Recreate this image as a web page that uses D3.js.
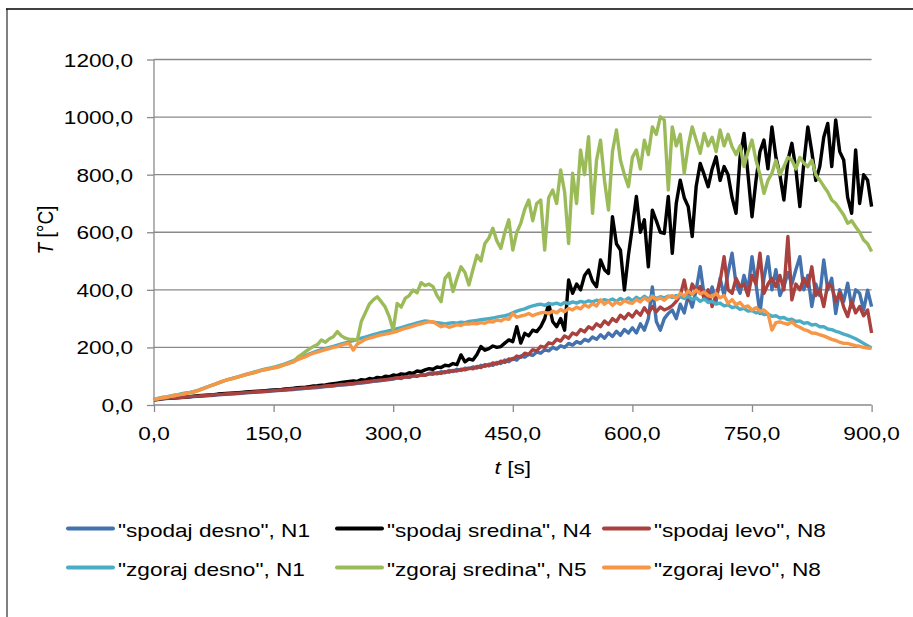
<!DOCTYPE html>
<html><head><meta charset="utf-8">
<script src="https://cdn.jsdelivr.net/npm/d3@7/dist/d3.min.js"></script>
<style>
html,body{margin:0;padding:0;background:#fff;}
text{font-family:"Liberation Sans",Arial,sans-serif;font-size:19px;fill:#000;}
</style></head>
<body><svg id="chart" width="913" height="617"></svg>
<script>
// time step of the readings (s): 0,5,...,900
const times = d3.range(0, 905, 5);
const xTicks = [0, 150, 300, 450, 600, 750, 900];
const yTicks = [0, 200, 400, 600, 800, 1000, 1200];
const seriesNames = ['"spodaj desno", N1', '"spodaj sredina", N4', '"spodaj levo", N8',
                     '"zgoraj desno", N1', '"zgoraj sredina", N5', '"zgoraj levo", N8'];
const seriesColors = ['#4372AE', '#000000', '#A9413E', '#4BACC6', '#9BBB59', '#F79646'];

const spodajDesno = [
 18,19,21,22,23,24,25,26,27,28, 29,30,31,32,33,34,35,36,37,38,
 39,40,41,42,43,44,45,46,47,48, 49,50,51,52,53,54,55,56,58,59,
 60,61,62,64,65,66,68,69,70,72, 73,75,76,78,80,82,83,85,87,88,
 90,94,92,98,96,102,100,106,104,110, 112,108,116,112,120,116,124,120,128,126,
 132,128,138,134,142,138,148,144,156,150, 162,156,170,166,176,172,184,180,192,188,
 200,194,206,200,214,208,220,214,228,222, 236,228,244,232,250,238,256,242,262,250,
 268,250,282,260,300,410,290,260,300,318, 330,300,350,320,380,340,400,480,380,365,
 410,360,440,380,460,527,420,388,450,400, 515,420,318,440,515,400,470,380,411,460,
 420,470,515,400,450,342,420,380,504,400, 440,318,400,360,423,340,400,388,330,399,
 342];
const spodajSredina = [
 18,20,22,23,24,25,26,27,28,29, 31,32,33,34,35,36,38,39,40,41,
 42,43,44,45,46,47,48,49,50,51, 52,53,54,56,57,58,60,61,62,64,
 66,67,69,70,72,74,76,78,80,82, 84,82,88,86,92,90,96,94,100,98,
 104,102,108,106,112,110,118,116,122,126, 124,132,130,138,136,144,140,174,150,160,
 156,175,203,190,196,205,200,203,215,226, 220,272,215,249,240,260,255,272,300,353,
 290,272,300,260,434,388,420,400,450,469, 430,411,504,470,457,654,560,538,399,520,
 619,724,600,643,480,677,640,600,596,724, 527,700,781,720,689,585,760,839,800,758,
 820,862,780,828,800,720,666,860,943,800, 654,780,880,920,820,966,860,800,712,850,
 909,820,689,840,966,880,780,828,930,978, 828,990,880,851,720,666,886,700,800,781,
 689];
const spodajLevo = [
 18,20,22,23,24,25,26,27,28,29, 30,31,32,33,34,35,36,37,38,39,
 40,41,42,43,44,45,46,47,48,49, 50,51,52,53,55,56,57,58,59,60,
 62,63,64,66,67,68,70,71,72,74, 75,77,78,80,82,84,85,87,88,90,
 92,95,94,98,97,101,100,104,103,108, 107,112,110,116,114,120,118,124,122,128,
 126,134,130,140,136,146,142,152,148,160, 158,170,166,180,176,192,188,204,200,216,
 212,228,222,240,232,250,244,262,254,272, 264,282,272,292,280,300,290,312,300,318,
 306,326,312,338,318,342,324,340,330,336, 345,360,380,434,365,420,395,411,370,400,
 342,380,430,515,400,388,440,411,420,380, 450,420,527,388,420,440,411,450,400,585,
 365,420,400,440,411,480,380,400,342,420, 411,360,390,340,307,360,320,342,310,330,
 250];
const zgorajDesno = [
 20,23,26,28,31,34,36,39,42,44, 47,51,56,61,66,71,76,81,86,90,
 94,98,102,106,110,114,118,122,125,128, 131,135,139,144,149,154,160,166,172,178,
 183,188,192,196,200,204,208,212,216,220, 224,228,232,236,240,244,248,252,255,258,
 261,265,269,273,277,281,285,289,292,290, 288,286,284,282,284,286,284,288,286,290,
 292,294,296,298,300,302,305,308,310,314, 320,326,330,334,340,344,348,350,346,352,
 350,354,348,356,352,358,354,360,356,362, 358,364,360,366,362,368,360,370,362,372,
 362,374,366,378,368,380,370,376,372,378, 374,380,376,370,378,366,372,360,368,356,
 360,350,354,344,348,338,342,332,336,326, 328,320,322,314,316,308,310,302,304,296,
 298,290,292,284,286,278,280,272,272,264, 262,256,252,246,242,236,230,222,214,206,
 198];
const zgorajSredina = [
 20,22,25,27,30,32,35,37,40,42, 45,50,55,60,66,71,76,81,86,90,
 93,97,101,105,108,112,116,120,123,126, 130,133,137,141,145,150,165,175,185,195,
 203,210,226,218,230,237,255,240,232,228, 228,225,290,320,350,365,376,359,340,307,
 260,353,340,370,380,399,390,425,415,420, 411,380,359,440,457,394,440,480,460,417,
 470,520,500,561,580,614,570,544,600,643, 538,600,631,680,712,640,700,712,538,720,
 747,700,816,740,561,805,700,886,800,932, 666,850,920,780,677,880,955,850,800,758,
 860,886,820,920,870,966,940,1001,990,747, 966,900,940,805,900,966,920,874,943,900,
 930,880,955,900,940,897,870,900,828,880, 920,850,800,735,780,805,850,800,828,860,
 851,820,860,840,828,850,800,781,760,740, 712,700,680,660,631,640,619,600,573,560,
 533];
const zgorajLevo = [
 20,22,25,27,30,32,35,37,40,43, 46,50,55,60,66,71,76,81,86,90,
 93,97,101,105,110,112,116,120,123,126, 128,131,136,141,146,150,157,163,168,175,
 180,184,188,192,196,200,203,208,212,214, 191,212,220,228,232,236,240,244,246,249,
 252,256,262,266,270,274,278,282,286,289, 289,280,272,276,270,274,279,276,282,281,
 284,282,286,284,290,288,295,292,300,298, 318,305,309,312,318,310,316,320,322,318,
 326,320,332,324,336,330,340,334,348,340, 352,344,365,350,360,346,358,350,362,356,
 353,366,358,372,362,376,366,372,364,376, 380,370,388,378,396,384,399,386,392,380,
 376,388,372,380,353,366,348,356,340,344, 330,338,326,330,318,260,286,289,284,280,
 289,276,270,262,258,250,249,244,240,234, 228,224,218,214,214,210,206,204,200,198,
 197];

const seriesValues = [spodajDesno, spodajSredina, spodajLevo, zgorajDesno, zgorajSredina, zgorajLevo];

const svg = d3.select('#chart');
const SX = 1.19; // horizontal stretch of the text in the picture
svg.append('rect').attr('width', 913).attr('height', 617).attr('fill', '#fff');
// frame
svg.append('line').attr('x1', 7).attr('x2', 7).attr('y1', 9).attr('y2', 617).attr('stroke', '#808080').attr('stroke-width', 2);
svg.append('line').attr('x1', 6).attr('x2', 913).attr('y1', 9).attr('y2', 9).attr('stroke', '#000').attr('stroke-width', 1.5);

const x = d3.scaleLinear().domain([0, 900]).range([154, 871.6]);
const y = d3.scaleLinear().domain([0, 1200]).range([405, 59.5]);
const fmt = v => v.toFixed(1).replace('.', ',');

function txt(px, py, s, anchor) {
  return svg.append('text').attr('transform', `translate(${px},${py}) scale(${SX},1)`)
    .attr('text-anchor', anchor).text(s);
}

// gridlines
svg.append('g').selectAll('line').data(yTicks.filter(v => v > 0)).join('line')
  .attr('x1', x(0)).attr('x2', x(900)).attr('y1', d => y(d)).attr('y2', d => y(d))
  .attr('stroke', '#8a8a8a').attr('stroke-width', 1.3);

// axes
const yAxis = svg.append('g').attr('transform', `translate(${x(0)},0)`)
  .call(d3.axisLeft(y).tickValues(yTicks).tickSize(7).tickFormat(''));
const xAxis = svg.append('g').attr('transform', `translate(0,${y(0)})`)
  .call(d3.axisBottom(x).tickValues(xTicks).tickSize(7).tickFormat(''));
[yAxis, xAxis].forEach(a => {
  a.selectAll('path,line').attr('stroke', '#8a8a8a').attr('stroke-width', 1.3);
  a.select('.domain').attr('d', a === yAxis ? `M0,${y(1200)}V${y(0)}` : `M${x(0)},0H${x(900)}`);
});
yTicks.forEach(v => txt(133, y(v) + 7, fmt(v), 'end'));
xTicks.forEach(v => txt(x(v), 440, fmt(v), 'middle'));

// axis titles
const yt = svg.append('text').attr('transform', `translate(53,230) scale(${SX},1) rotate(-90)`).attr('text-anchor', 'middle');
yt.append('tspan').attr('font-style', 'italic').text('T');
yt.append('tspan').text(' [°C]');
const xt = svg.append('text').attr('transform', `translate(${x(450)},474) scale(${SX},1)`).attr('text-anchor', 'middle');
xt.append('tspan').attr('font-style', 'italic').text('t');
xt.append('tspan').text(' [s]');

// series
const line = d3.line().x((d, i) => x(times[i])).y(d => y(d));
const lines = svg.append('g');
seriesValues.forEach((vals, k) => {
  lines.append('path').datum(vals).attr('d', line).attr('fill', 'none')
    .attr('stroke', seriesColors[k]).attr('stroke-width', 3.4).attr('stroke-linejoin', 'round');
});

// legend
const legX = [68, 337, 604];
const legY = [528.5, 567.5];
seriesNames.forEach((name, k) => {
  const col = k % 3, row = Math.floor(k / 3);
  svg.append('line').attr('x1', legX[col]).attr('x2', legX[col] + 45)
    .attr('y1', legY[row]).attr('y2', legY[row])
    .attr('stroke', seriesColors[k]).attr('stroke-width', 4).attr('stroke-linecap', 'round');
  txt(legX[col] + 50, legY[row] + 8.5, name, 'start');
});
</script></body></html>
